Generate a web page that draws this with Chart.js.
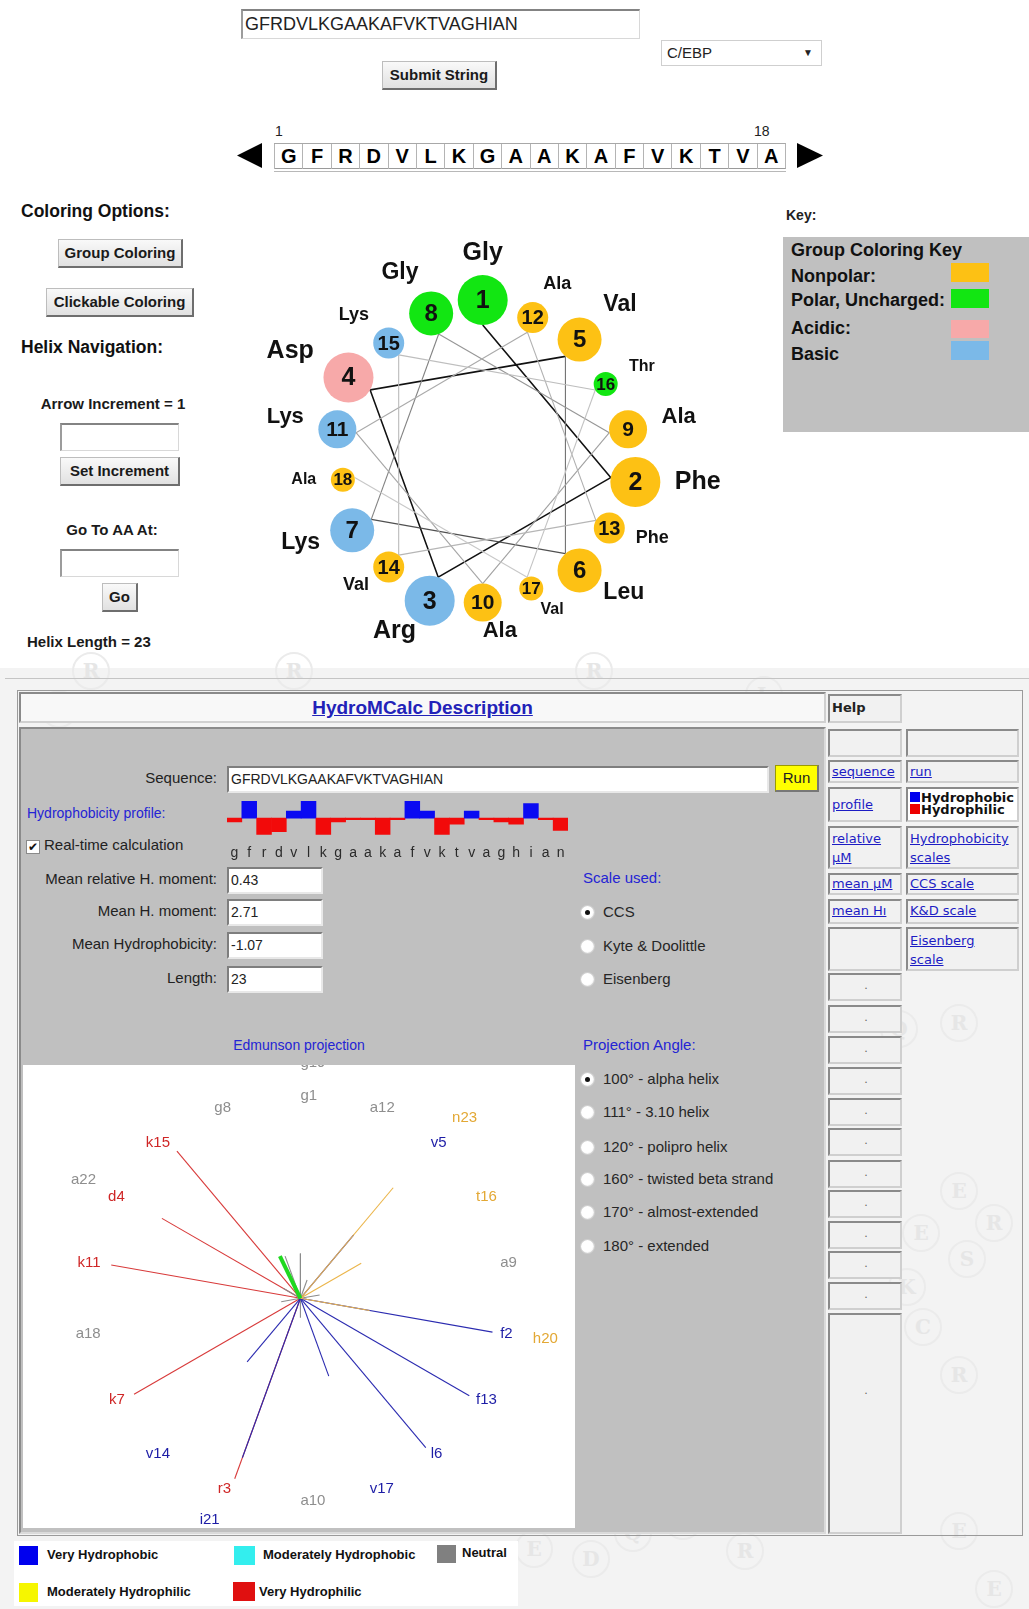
<!DOCTYPE html>
<html lang="en"><head><meta charset="utf-8"><title>Helical wheel / HydroMCalc</title>
<script src="https://cdn.jsdelivr.net/npm/chart.js"></script>
<style>
html,body{margin:0;padding:0}
body{width:1029px;height:1609px;position:relative;overflow:hidden;background:#fff;font-family:"Liberation Sans",Arial,sans-serif;color:#111}
.a{position:absolute;white-space:nowrap}
.bt{position:absolute;box-sizing:border-box;background:linear-gradient(#f9f9f9,#e1e1e1);border:1px solid #bdbdbd;border-right:2px solid #6e6e6e;border-bottom:2px solid #6e6e6e;font:bold 15px "Liberation Sans",Arial,sans-serif;color:#1a1a1a;text-align:center}
.in{position:absolute;box-sizing:border-box;background:#fff;border:1px solid #d8d8d8;border-top:2px solid #838383;border-left:2px solid #9c9c9c}
.b15{font-weight:bold;font-size:15px;color:#1a1a1a}
.cell{position:absolute;box-sizing:border-box;background:#f1f1f1;border:2px solid;border-color:#8a8a8a #cfcfcf #cfcfcf #8a8a8a;font:13px "DejaVu Sans",Verdana,sans-serif;padding-left:2px;line-height:19px}
.lk{color:#1c1cc4;text-decoration:underline}
.pl{font-size:15px;color:#222;text-align:right;width:200px;left:17px;height:20px;line-height:20px}
.fld{position:absolute;box-sizing:border-box;background:#fff;border:2px solid;border-color:#7e7e7e #e8e8e8 #e8e8e8 #7e7e7e;font-size:14px;color:#222;padding-left:2px;line-height:22px}
.blue{color:#2424d4}
.rad{position:absolute;width:13px;height:13px;border-radius:50%;background:radial-gradient(circle at 45% 45%,#fff 55%,#d6d6d6 100%);box-shadow:0 0 0 1px #cfcfcf}
.rad.on::after{content:"";position:absolute;left:4px;top:4px;width:5px;height:5px;border-radius:50%;background:#111}
.rt{font-size:15px;color:#262626;height:20px;line-height:20px}
.wm{position:absolute;width:34px;height:34px;border-radius:50%;border:2px solid #ebebeb;color:#e6e6e6;font:bold 20px "DejaVu Serif",serif;text-align:center;line-height:34px}
.sw{position:absolute}
.key{font:bold 18px "Liberation Sans",Arial,sans-serif;color:#111;line-height:22px}
.lg{font:bold 13px "Liberation Sans",Arial,sans-serif;color:#111;height:18px;line-height:18px}
.sc{position:absolute;top:0;height:25px;box-sizing:border-box;border-left:1px solid #b4b4b4;text-align:center;font:bold 20px "Liberation Sans",Arial,sans-serif;line-height:25px;color:#000}
canvas{position:absolute}
</style></head>
<body>
<!-- ================= top part ================= -->
<div class="in" style="left:241px;top:9px;width:399px;height:30px;font-size:18px;line-height:26px;padding-left:2px;color:#222">GFRDVLKGAAKAFVKTVAGHIAN</div>
<div class="a" style="left:661px;top:40px;width:161px;height:26px;box-sizing:border-box;border:1px solid #cfcfcf;font-size:15px;line-height:24px;padding-left:5px;color:#222">C/EBP<span style="position:absolute;right:8px;top:0;font-size:10px">&#9660;</span></div>
<div class="bt" style="left:382px;top:61px;width:115px;height:29px;line-height:26px">Submit String</div>

<div class="a" style="left:275px;top:123px;font-size:14px;color:#222">1</div>
<div class="a" style="left:754px;top:123px;font-size:14px;color:#222">18</div>
<svg class="a" style="left:230px;top:138px" width="600" height="36">
  <polygon points="7,17.5 32,5 32,30" fill="#000"/>
  <polygon points="593,17.5 567,5 567,30" fill="#000"/>
</svg>
<div id="strip" class="a" style="left:274px;top:143px;width:512px;height:26px;box-sizing:border-box;border-top:1px solid #a8a8a8;border-right:1px solid #b4b4b4;border-bottom:1px solid #9a9a9a;background:#fff"></div>
<div class="a" style="left:274px;top:171px;width:512px;height:1px;background:#b8b8b8"></div>

<!-- left panel -->
<div class="a" style="left:21px;top:200px;font:bold 17.5px 'Liberation Sans',Arial,sans-serif;line-height:22px">Coloring Options:</div>
<div class="bt" style="left:58px;top:239px;width:125px;height:29px;line-height:26px">Group Coloring</div>
<div class="bt" style="left:46px;top:288px;width:148px;height:29px;line-height:26px">Clickable Coloring</div>
<div class="a" style="left:21px;top:336px;font:bold 17.5px 'Liberation Sans',Arial,sans-serif;line-height:22px">Helix Navigation:</div>
<div class="a b15" style="left:13px;width:200px;text-align:center;top:394px;line-height:20px">Arrow Increment = 1</div>
<div class="in" style="left:60px;top:423px;width:119px;height:28px"></div>
<div class="bt" style="left:60px;top:457px;width:120px;height:29px;line-height:26px">Set Increment</div>
<div class="a b15" style="left:12px;width:200px;text-align:center;top:520px;line-height:20px">Go To AA At:</div>
<div class="in" style="left:60px;top:549px;width:119px;height:28px"></div>
<div class="bt" style="left:102px;top:583px;width:36px;height:29px;line-height:26px">Go</div>
<div class="a b15" style="left:27px;top:632px;line-height:20px">Helix Length = 23</div>

<!-- key -->
<div class="a" style="left:786px;top:207px;font:bold 14px 'Liberation Sans',Arial,sans-serif;color:#222">Key:</div>
<div class="a" style="left:783px;top:237px;width:246px;height:195px;background:#c0c0c0"></div>
<div id="key"></div>

<!-- ================= lower part ================= -->
<div class="a" style="left:0;top:668px;width:1029px;height:941px;background:#f3f3f3"></div>
<div id="wm"></div>

<!-- wheel (drawn above the page background) -->
<canvas id="wheel" width="510" height="445" style="left:232px;top:215px"></canvas>

<div class="a" style="left:5px;top:678px;width:1024px;height:1px;background:#c4c4c4"></div>
<div class="a" style="left:17px;top:690px;width:1006px;height:846px;box-sizing:border-box;border:1px solid #9a9a9a"></div>

<div class="a" style="left:19px;top:692px;width:807px;height:31px;box-sizing:border-box;background:#f8f8f8;border:2px solid;border-color:#8a8a8a #d0d0d0 #d0d0d0 #8a8a8a;text-align:center;font:bold 19px 'Liberation Sans',Arial,sans-serif;line-height:27px"><span style="color:#2222b8;text-decoration:underline">HydroMCalc Description</span></div>

<div class="a" style="left:19px;top:727px;width:807px;height:807px;box-sizing:border-box;background:#c0c0c0;border:2px solid;border-color:#8a8a8a #dadada #dadada #8a8a8a"></div>

<div class="a pl" style="top:768px">Sequence:</div>
<div class="fld" style="left:227px;top:766px;width:542px;height:27px">GFRDVLKGAAKAFVKTVAGHIAN</div>
<div class="a" style="left:775px;top:765px;width:44px;height:27px;box-sizing:border-box;background:#ffff00;border:1px solid #9a9a00;border-right:2px solid #777;border-bottom:2px solid #777;text-align:center;font-size:15px;line-height:24px;color:#222">Run</div>

<div class="a blue" style="left:27px;top:803px;font-size:14px;line-height:20px">Hydrophobicity profile:</div>
<div class="a" style="left:26px;top:840px;width:14px;height:14px;box-sizing:border-box;background:#fff;border:1px solid #8a8a8a;font:bold 12px 'DejaVu Sans',sans-serif;line-height:12px;text-align:center;color:#111">&#10004;</div>
<div class="a" style="left:44px;top:835px;font-size:15px;color:#222;line-height:20px">Real-time calculation</div>
<canvas id="profile" width="341" height="63" style="left:227px;top:801px"></canvas>

<div id="stats"></div>

<div class="a blue" style="left:583px;top:868px;font-size:15px;line-height:20px">Scale used:</div>
<div id="scales"></div>
<div class="a blue" style="left:583px;top:1035px;font-size:15px;line-height:20px">Projection Angle:</div>

<div class="a blue" style="left:199px;width:200px;text-align:center;top:1035px;font-size:14px;line-height:20px">Edmunson projection</div>
<div class="a" style="left:23px;top:1065px;width:552px;height:463px;background:#fff"></div>
<canvas id="edm" width="552" height="463" style="left:23px;top:1065px"></canvas>

<!-- help columns -->
<div class="cell" style="left:828px;top:694px;width:74px;height:29px;font-weight:bold;color:#222;line-height:24px">Help</div>
<div class="cell" style="left:828px;top:729px;width:74px;height:28px"></div>
<div class="cell" style="left:906px;top:729px;width:113px;height:28px"></div>
<div class="cell" style="left:828px;top:760px;width:74px;height:23px;line-height:19px"><span class="lk">sequence</span></div>
<div class="cell" style="left:906px;top:760px;width:113px;height:23px;line-height:19px"><span class="lk">run</span></div>
<div class="cell" style="left:828px;top:787px;width:74px;height:35px;line-height:31px"><span class="lk">profile</span></div>
<div class="cell" style="left:906px;top:787px;width:113px;height:35px;background:#fff;font:bold 13px 'DejaVu Sans',sans-serif;line-height:12px;padding-top:3px;color:#111">
  <div><span style="display:inline-block;width:10px;height:10px;background:#0000ee;margin-right:1px"></span>Hydrophobic</div>
  <div><span style="display:inline-block;width:10px;height:10px;background:#ee0000;margin-right:1px"></span>Hydrophilic</div>
</div>
<div class="cell" style="left:828px;top:826px;width:74px;height:43px;padding-top:1px"><span class="lk">relative</span><br><span class="lk">µM</span></div>
<div class="cell" style="left:906px;top:826px;width:113px;height:43px;padding-top:1px"><span class="lk">Hydrophobicity</span><br><span class="lk">scales</span></div>
<div class="cell" style="left:828px;top:873px;width:74px;height:22px;line-height:18px"><span class="lk">mean µM</span></div>
<div class="cell" style="left:906px;top:873px;width:113px;height:22px;line-height:18px"><span class="lk">CCS scale</span></div>
<div class="cell" style="left:828px;top:899px;width:74px;height:25px;line-height:20px"><span class="lk">mean Hı</span></div>
<div class="cell" style="left:906px;top:899px;width:113px;height:25px;line-height:20px"><span class="lk">K&amp;D scale</span></div>
<div class="cell" style="left:828px;top:927px;width:74px;height:44px"></div>
<div class="cell" style="left:906px;top:927px;width:113px;height:44px;padding-top:2px"><span class="lk">Eisenberg</span><br><span class="lk">scale</span></div>
<div id="dots"></div>

<!-- bottom legend -->
<div class="a" style="left:14px;top:1541px;width:504px;height:65px;background:#fff"></div>
<div id="legend"></div>

<script>
// ====================== DATA ======================
const sequence = 'GFRDVLKGAAKAFVKTVAGHIAN';
const stripLetters = ['G','F','R','D','V','L','K','G','A','A','K','A','F','V','K','T','V','A'];

// helical wheel (residues 1..18), angle in degrees clockwise from top
const wheelNames  = ['Gly','Phe','Arg','Asp','Val','Leu','Lys','Gly','Ala','Ala','Lys','Ala','Phe','Val','Lys','Thr','Val','Ala'];
const wheelAngles = [0,100,200,300,40,140,240,340,80,180,280,20,120,220,320,60,160,260];
const wheelGroups = ['polar','nonpolar','basic','acidic','nonpolar','nonpolar','basic','polar','nonpolar','nonpolar','basic','nonpolar','nonpolar','nonpolar','basic','polar','nonpolar','nonpolar'];

// group coloring key
const keyTitle  = 'Group Coloring Key';
const keyLabels = ['Nonpolar:','Polar, Uncharged:','Acidic:','Basic'];
const keyGroups = ['nonpolar','polar','acidic','basic'];

// hydrophobicity profile (CCS scale)
const profileLetters = ['g','f','r','d','v','l','k','g','a','a','k','a','f','v','k','t','v','a','g','h','i','a','n'];
const hydrophobicity = [-0.46,2.0,-1.97,-1.64,0.85,2.0,-1.97,-0.46,-0.2,-0.2,-1.97,-0.2,2.0,0.85,-1.97,-0.72,0.85,-0.2,-0.46,-0.72,1.74,-0.2,-1.48];

// Edmundson projection
const projLabels  = ['g1','f2','r3','d4','v5','l6','k7','g8','a9','a10','k11','a12','f13','v14','k15','t16','v17','a18','g19','h20','i21','a22','n23'];
const projAngles  = [0,100,200,300,40,140,240,340,80,180,280,20,120,220,320,60,160,260,0,100,200,300,40];
const projClasses = ['neutral','vphob','vphil','vphil','vphob','vphob','vphil','neutral','neutral','neutral','vphil','neutral','vphob','vphob','vphil','mphil','vphob','neutral','neutral','mphil','vphob','neutral','mphil'];
const momentAngle  = 334;
const momentLength = 0.48;

// calculator fields
const statLabels = ['Mean relative H. moment:','Mean H. moment:','Mean Hydrophobicity:','Length:'];
const statValues = ['0.43','2.71','-1.07','23'];
const scaleOptions = ['CCS','Kyte &amp; Doolittle','Eisenberg'];
const angleOptions = ['100° - alpha helix','111° - 3.10 helix','120° - polipro helix','160° - twisted beta strand','170° - almost-extended','180° - extended'];
const legendItems = ['Very Hydrophobic','Moderately Hydrophobic','Neutral','Moderately Hydrophilic','Very Hydrophilic'];

// ====================== STYLES ======================
const groupColors = {nonpolar:'#fdc114', polar:'#12e612', acidic:'#f7a9a9', basic:'#7bb9e8'};
const classLine  = {vphob:'#2b2bb0', vphil:'#d83a3a', mphil:'#ebb54a', neutral:'#8c8c8c', mphob:'#22dddd'};
const classText  = {vphob:'#1d1da6', vphil:'#cf2626', mphil:'#e3a834', neutral:'#8e8e8e', mphob:'#22cccc'};
const FONT = '"Liberation Sans", Arial, sans-serif';

// ====================== HTML parts ======================
function add(parent, html){parent.insertAdjacentHTML('beforeend', html);}
const strip = document.getElementById('strip');
const cw = 511/stripLetters.length;
stripLetters.forEach((L,i)=>add(strip, `<div class="sc" style="left:${i*cw}px;width:${cw}px">${L}</div>`));

const key = document.getElementById('key');
add(key, `<div class="a key" style="left:791px;top:239px">${keyTitle}</div>`);
const keyTextY = [265, 289, 317, 343], keySwY = [263, 289, 320, 341], keySwH = [19, 19, 18, 19];
keyLabels.forEach((t,i)=>{
  add(key, `<div class="a key" style="left:791px;top:${keyTextY[i]}px">${t}</div>`);
  add(key, `<div class="sw" style="left:951px;top:${keySwY[i]}px;width:38px;height:${keySwH[i]}px;background:${groupColors[keyGroups[i]]}"></div>`);
});

const stats = document.getElementById('stats');
const statTop = [867, 899, 932, 966];
statLabels.forEach((t,i)=>{
  add(stats, `<div class="a pl" style="top:${statTop[i]+2}px">${t}</div>`);
  add(stats, `<div class="fld" style="left:227px;top:${statTop[i]}px;width:96px;height:27px">${statValues[i]}</div>`);
});
const scales = document.getElementById('scales');
const scaleY = [912, 946, 979], angleY = [1079, 1112, 1147, 1179, 1212, 1246];
scaleOptions.forEach((t,i)=>{
  add(scales, `<div class="rad${i===0?' on':''}" style="left:581px;top:${scaleY[i]-6.5}px"></div>`);
  add(scales, `<div class="a rt" style="left:603px;top:${scaleY[i]-10}px">${t}</div>`);
});
angleOptions.forEach((t,i)=>{
  add(scales, `<div class="rad${i===0?' on':''}" style="left:581px;top:${angleY[i]-6.5}px"></div>`);
  add(scales, `<div class="a rt" style="left:603px;top:${angleY[i]-10}px">${t}</div>`);
});

const dots = document.getElementById('dots');
const dotTops = [973,1005,1036,1067,1098,1128,1160,1190,1221,1251,1282];
dotTops.forEach(t=>add(dots, `<div class="cell" style="left:828px;top:${t}px;width:74px;height:28px;text-align:center;line-height:22px;color:#666;font-size:11px">.</div>`));
add(dots, `<div class="cell" style="left:828px;top:1313px;width:74px;height:221px;text-align:center;line-height:152px;color:#666;font-size:11px">.</div>`);

const legend = document.getElementById('legend');
const legSw = [[19,1546,19,19,'#0000ee'],[234,1546,21,19,'#33eeee'],[437,1545,19,18,'#808080'],[19,1583,19,19,'#f6f600'],[233,1582,22,19,'#e01010']];
const legTx = [[47,1546],[263,1546],[462,1544],[47,1583],[259,1583]];
legendItems.forEach((t,i)=>{
  const s=legSw[i];
  add(legend, `<div class="sw" style="left:${s[0]}px;top:${s[1]}px;width:${s[2]}px;height:${s[3]}px;background:${s[4]}"></div>`);
  add(legend, `<div class="a lg" style="left:${legTx[i][0]}px;top:${legTx[i][1]}px">${t}</div>`);
});

// faint background watermark
const wm = document.getElementById('wm');
[['R',72,652],['G',40,690],['R',275,652],['L',745,676],['R',575,652],['Q',880,1010],['R',940,1004],['E',940,1172],['E',902,1214],['R',975,1204],['K',888,1268],['C',904,1308],['R',940,1356],['E',940,1512],['D',664,1502],['D',572,1540],['Q',614,1514],['E',515,1530],['R',726,1532],['E',975,1570],['S',948,1240]].forEach(w=>{
  add(wm, `<div class="wm" style="left:${w[1]}px;top:${w[2]}px">${w[0]}</div>`);
});

const baseOpts = {responsive:false, animation:false, events:[], layout:{padding:0, autoPadding:false},
  plugins:{legend:{display:false}, tooltip:{enabled:false}}};

// ====================== CHART: helical wheel ======================
const tierOf = i => i < 4 ? 0 : i < 8 ? 1 : i < 11 ? 2 : i < 15 ? 3 : 4;
const ringRadius   = [155, 150.7, 147.6, 146.2, 142];
const bubbleRadius = [25, 22, 19, 15.5, 12];
const numberFont   = [25, 24, 21, 20, 17];
const nameFont     = [25, 23, 22, 18, 16];
const rad = d => d*Math.PI/180;
const wheelPoints = wheelAngles.map((a,i)=>{const t=tierOf(i);return {x:ringRadius[t]*Math.sin(rad(a)), y:ringRadius[t]*Math.cos(rad(a)), r:bubbleRadius[t]};});
const innerPoints = wheelAngles.map((a,i)=>{const t=tierOf(i), R=ringRadius[t]-bubbleRadius[t];return {x:R*Math.sin(rad(a)), y:R*Math.cos(rad(a))};});
const segGray = [17,17,17,17,115,80,130,150,160,165,170,176,182,186,190,195,200];
const segColor = k => `rgb(${segGray[k]},${segGray[k]},${segGray[k]})`;

const wheelText = {id:'wheelText', afterDatasetsDraw(chart){
  const {ctx, scales:{x,y}} = chart;
  ctx.save();
  ctx.fillStyle='#111';
  wheelPoints.forEach((p,i)=>{
    const t=tierOf(i), px=x.getPixelForValue(p.x), py=y.getPixelForValue(p.y);
    ctx.textAlign='center'; ctx.textBaseline='middle';
    ctx.font=`bold ${numberFont[t]}px ${FONT}`;
    ctx.fillText(String(i+1), px, py+1);
    // residue name: baseline-anchored just outside the circle, extending away on its side
    const s=Math.sin(rad(wheelAngles[i])), c=Math.cos(rad(wheelAngles[i]));
    const d=p.r+15;
    ctx.font=`bold ${nameFont[t]}px ${FONT}`;
    ctx.textBaseline='alphabetic';
    ctx.textAlign = s > 1e-9 ? 'left' : s < -1e-9 ? 'right' : (c > 0 ? 'center' : 'left');
    ctx.fillText(wheelNames[i], px+s*d, py-c*d);
  });
  ctx.restore();
}};

new Chart(document.getElementById('wheel'), {
  type:'bubble',
  data:{datasets:[
    {type:'line', data:innerPoints, showLine:true, pointRadius:0, tension:0, borderColor:'#111', borderWidth:1.2, clip:false, order:2,
     segment:{borderColor:c=>segColor(c.p0DataIndex), borderWidth:c=>c.p0DataIndex<4?1.6:1.1}},
    {type:'bubble', data:wheelPoints, backgroundColor:wheelGroups.map(g=>groupColors[g]), borderWidth:0, clip:false, order:1}
  ]},
  options:{...baseOpts,
    scales:{x:{type:'linear', min:-250.7, max:259.3, display:false}, y:{type:'linear', min:-205, max:240, display:false}}},
  plugins:[wheelText]
});

// ====================== CHART: hydrophobicity profile ======================
new Chart(document.getElementById('profile'), {
  type:'bar',
  data:{labels:profileLetters, datasets:[{data:hydrophobicity, backgroundColor:hydrophobicity.map(v=>v>0?'#0a0af2':'#f20a0a'), borderWidth:0, barPercentage:1, categoryPercentage:1}]},
  options:{...baseOpts,
    scales:{
      x:{grid:{display:false}, border:{display:false}, ticks:{color:'#2a2a2a', font:{size:14, family:FONT}, padding:2, maxRotation:0, autoSkip:false}},
      y:{display:false, min:-2.05, max:2.05}
    }}
});

// ====================== CHART: Edmundson projection ======================
const ring1 = 2.08, ring2 = 2.42;
const lineSets = projAngles.map((a,i)=>({
  type:'line', data:[{x:0,y:0},{x:Math.abs(hydrophobicity[i])*Math.sin(rad(a)), y:Math.abs(hydrophobicity[i])*Math.cos(rad(a))}],
  showLine:true, pointRadius:0, borderColor:classLine[projClasses[i]], borderWidth:1.1, order:100-i
}));
lineSets.push({type:'line', data:[{x:0,y:0},{x:momentLength*Math.sin(rad(momentAngle)), y:momentLength*Math.cos(rad(momentAngle))}],
  showLine:true, pointRadius:0, borderColor:'#1fd81f', borderWidth:4, order:-1});

const projText = {id:'projText', afterDatasetsDraw(chart){
  const {ctx, chartArea:ca, scales:{x,y}} = chart;
  ctx.save();
  ctx.beginPath(); ctx.rect(ca.left, ca.top, ca.right-ca.left, ca.bottom-ca.top); ctx.clip();
  ctx.font=`15px ${FONT}`; ctx.textBaseline='middle';
  projLabels.forEach((t,i)=>{
    const R = i < 18 ? ring1 : ring2, s = Math.sin(rad(projAngles[i])), c = Math.cos(rad(projAngles[i]));
    ctx.textAlign = s < -0.01 ? 'right' : 'left';
    ctx.fillStyle = classText[projClasses[i]];
    ctx.fillText(t, x.getPixelForValue(R*s), y.getPixelForValue(R*c));
  });
  ctx.restore();
}};

new Chart(document.getElementById('edm'), {
  type:'scatter',
  data:{datasets:lineSets},
  options:{...baseOpts,
    scales:{x:{type:'linear', min:-2.845, max:2.816, display:false}, y:{type:'linear', min:-2.356, max:2.393, display:false}}},
  plugins:[projText]
});
</script>
</body></html>
